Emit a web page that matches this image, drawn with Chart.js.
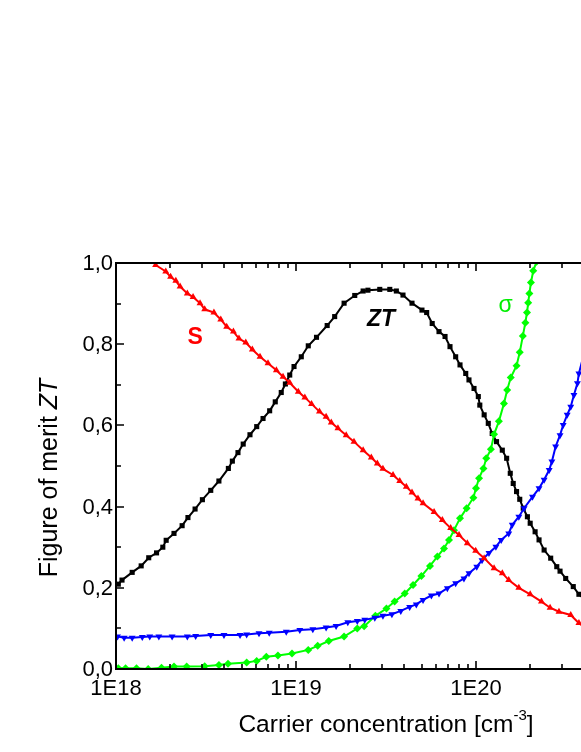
<!DOCTYPE html>
<html>
<head>
<meta charset="utf-8">
<script src="https://cdn.jsdelivr.net/npm/chart.js@4.4.1/dist/chart.umd.min.js"></script>
<style>
  html, body { margin: 0; padding: 0; background: #fff; overflow: hidden; width: 581px; height: 752px; }
  #wrap { position: absolute; left: 0; top: 0; width: 700px; height: 752px; }
</style>
</head>
<body>
<div id="wrap"><canvas id="c" width="700" height="752"></canvas></div>
<script>
// ---- Data (x = carrier concentration in cm^-3, y on the ZT axis scale) ----
const ztConc = [1.03e18,1.08e18,1.23e18,1.38e18,1.52e18,1.68e18,1.82e18,1.90e18,2.10e18,2.33e18,2.51e18,2.75e18,3.02e18,3.36e18,3.73e18,4.21e18,4.43e18,4.76e18,5.09e18,5.55e18,6.05e18,6.56e18,7.14e18,7.67e18,8.28e18,8.73e18,9.23e18,9.75e18,1.07e19,1.17e19,1.30e19,1.49e19,1.64e19,1.85e19,2.12e19,2.36e19,2.51e19,2.92e19,3.32e19,3.61e19,3.93e19,4.41e19,5.01e19,5.32e19,5.71e19,6.23e19,6.73e19,7.17e19,7.71e19,8.15e19,8.77e19,9.14e19,9.75e19,1.03e20,1.05e20,1.11e20,1.17e20,1.23e20,1.30e20,1.40e20,1.48e20,1.55e20,1.61e20,1.68e20,1.75e20,1.83e20,1.93e20,2.00e20,2.13e20,2.24e20,2.39e20,2.60e20,2.81e20,2.93e20,3.15e20,3.47e20,3.73e20,4.10e20];
const ztValues = [0.209,0.219,0.238,0.254,0.274,0.286,0.300,0.317,0.334,0.353,0.373,0.394,0.417,0.440,0.463,0.494,0.512,0.533,0.554,0.577,0.597,0.617,0.636,0.658,0.681,0.702,0.724,0.745,0.769,0.796,0.817,0.846,0.868,0.901,0.920,0.931,0.933,0.935,0.935,0.931,0.921,0.901,0.884,0.878,0.851,0.831,0.819,0.794,0.769,0.749,0.728,0.712,0.691,0.671,0.650,0.626,0.605,0.580,0.560,0.539,0.519,0.482,0.457,0.437,0.418,0.396,0.375,0.359,0.338,0.318,0.293,0.273,0.252,0.241,0.223,0.203,0.184,0.168];

const sConc = [1.66e18,1.89e18,2.01e18,2.15e18,2.27e18,2.49e18,2.68e18,2.93e18,3.11e18,3.50e18,3.82e18,4.12e18,4.49e18,4.82e18,5.26e18,5.72e18,6.31e18,6.99e18,7.78e18,8.47e18,9.23e18,1.03e19,1.12e19,1.22e19,1.35e19,1.47e19,1.57e19,1.71e19,1.90e19,2.10e19,2.36e19,2.62e19,2.83e19,3.04e19,3.46e19,3.77e19,4.10e19,4.41e19,4.76e19,5.08e19,5.85e19,6.50e19,7.23e19,8.05e19,8.95e19,9.96e19,1.11e20,1.26e20,1.40e20,1.52e20,1.73e20,2.00e20,2.31e20,2.58e20,2.89e20,3.36e20,3.73e20,4.10e20];
const sValues = [0.995,0.979,0.966,0.956,0.942,0.925,0.916,0.901,0.886,0.878,0.861,0.843,0.831,0.814,0.804,0.787,0.769,0.753,0.736,0.720,0.705,0.683,0.669,0.653,0.634,0.621,0.607,0.593,0.576,0.560,0.539,0.521,0.506,0.493,0.478,0.463,0.449,0.435,0.420,0.408,0.387,0.367,0.347,0.330,0.310,0.291,0.273,0.248,0.236,0.219,0.200,0.184,0.166,0.151,0.141,0.133,0.113,0.100];

const sigmaConc = [1.03e18,1.13e18,1.30e18,1.51e18,1.79e18,2.10e18,2.47e18,3.11e18,3.73e18,4.19e18,5.32e18,6.05e18,6.84e18,7.94e18,9.50e18,1.17e19,1.32e19,1.52e19,1.85e19,2.19e19,2.39e19,2.76e19,3.18e19,3.53e19,4.02e19,4.47e19,4.97e19,5.55e19,6.10e19,6.64e19,7.08e19,7.55e19,8.15e19,8.87e19,9.67e19,1.00e20,1.04e20,1.10e20,1.14e20,1.21e20,1.26e20,1.34e20,1.43e20,1.49e20,1.56e20,1.68e20,1.75e20,1.82e20,1.88e20,1.92e20,1.95e20,1.98e20,2.02e20,2.08e20,2.17e20];
const sigmaValues = [0.002,0.002,0.002,0.000,0.003,0.006,0.006,0.007,0.010,0.013,0.016,0.020,0.030,0.033,0.038,0.047,0.057,0.069,0.080,0.100,0.105,0.131,0.149,0.166,0.186,0.207,0.229,0.254,0.277,0.297,0.318,0.342,0.371,0.396,0.422,0.445,0.470,0.494,0.519,0.541,0.578,0.610,0.654,0.687,0.718,0.747,0.780,0.820,0.853,0.878,0.902,0.925,0.952,0.981,1.003];

const blueConc = [1.02e18,1.11e18,1.23e18,1.40e18,1.54e18,1.73e18,2.05e18,2.49e18,2.77e18,3.36e18,3.98e18,4.89e18,5.32e18,6.23e18,7.10e18,8.83e18,1.05e19,1.24e19,1.47e19,1.67e19,1.94e19,2.19e19,2.41e19,2.74e19,3.04e19,3.41e19,3.82e19,4.28e19,4.66e19,5.08e19,5.65e19,6.23e19,6.93e19,7.71e19,8.57e19,9.14e19,1.01e20,1.08e20,1.18e20,1.29e20,1.38e20,1.52e20,1.59e20,1.73e20,1.85e20,2.06e20,2.24e20,2.39e20,2.55e20,2.64e20,2.77e20,2.93e20,3.05e20,3.21e20,3.36e20,3.50e20,3.66e20,3.73e20,4.00e20];
const blueValues = [0.080,0.077,0.077,0.079,0.080,0.080,0.080,0.080,0.081,0.084,0.084,0.084,0.085,0.088,0.089,0.092,0.096,0.098,0.102,0.106,0.115,0.118,0.121,0.126,0.131,0.135,0.143,0.153,0.159,0.170,0.181,0.186,0.199,0.211,0.223,0.236,0.252,0.268,0.286,0.301,0.318,0.334,0.355,0.375,0.396,0.424,0.445,0.466,0.490,0.511,0.548,0.576,0.601,0.626,0.646,0.675,0.704,0.728,0.780];

const xTickValues = [1e18, 1e19, 1e20, 1e21];
const xTickLabels = ["1E18", "1E19", "1E20", "1E21"];
const yTickValues = [0, 0.2, 0.4, 0.6, 0.8, 1.0];
const yTickLabels = ["0,0", "0,2", "0,4", "0,6", "0,8", "1,0"];
const yMinorValues = [0.1, 0.3, 0.5, 0.7, 0.9];

const xTitle = "Carrier concentration [cm";
const xTitleSup = "-3";
const xTitleEnd = "]";
const yTitle = "Figure of merit ";
const yTitleItalic = "ZT";

const seriesLabels = [
  { text: "S", x: 2.75e18, y: 0.815, color: "#ff0000", font: "bold 23px 'Liberation Sans', Arial, sans-serif" },
  { text: "ZT", x: 2.97e19, y: 0.86, color: "#000000", font: "italic bold 23px 'Liberation Sans', Arial, sans-serif" },
  { text: "σ", x: 1.46e20, y: 0.895, color: "#00ee00", font: "23px 'Liberation Sans', Arial, sans-serif" }
];

function pts(xs, ys) { return xs.map((x, i) => ({ x: x, y: ys[i] })); }

const FONT = "'Liberation Sans', Arial, sans-serif";

const axesPlugin = {
  id: 'originAxes',
  afterDatasetsDraw(chart) {
    const ctx = chart.ctx;
    const xs = chart.scales.x, ys = chart.scales.y;
    const a = chart.chartArea;
    ctx.save();
    ctx.strokeStyle = '#000';
    ctx.lineWidth = 2;
    ctx.lineCap = 'butt';
    ctx.beginPath();
    ctx.moveTo(a.left, a.bottom); ctx.lineTo(a.right, a.bottom);
    ctx.moveTo(a.left, a.top); ctx.lineTo(a.right, a.top);
    ctx.moveTo(a.left, a.top - 1); ctx.lineTo(a.left, a.bottom + 1);
    ctx.stroke();
    ctx.lineWidth = 1.6;
    ctx.beginPath();
    for (let e = 18; e <= 20; e++) {
      for (let m = 1; m <= 9; m++) {
        const v = m * Math.pow(10, e);
        const px = Math.round(xs.getPixelForValue(v));
        const len = (m === 1) ? 8 : 5;
        ctx.moveTo(px, a.bottom); ctx.lineTo(px, a.bottom - len);
        ctx.moveTo(px, a.top); ctx.lineTo(px, a.top + len);
      }
    }
    yTickValues.forEach(v => {
      const py = Math.round(ys.getPixelForValue(v));
      ctx.moveTo(a.left, py); ctx.lineTo(a.left + 8, py);
    });
    yMinorValues.forEach(v => {
      const py = Math.round(ys.getPixelForValue(v));
      ctx.moveTo(a.left, py); ctx.lineTo(a.left + 5, py);
    });
    ctx.stroke();

    ctx.fillStyle = '#000';
    ctx.font = '22px ' + FONT;
    ctx.textAlign = 'right';
    ctx.textBaseline = 'middle';
    yTickValues.forEach((v, i) => {
      ctx.fillText(yTickLabels[i], a.left - 3, ys.getPixelForValue(v) + 1);
    });
    ctx.textAlign = 'center';
    ctx.textBaseline = 'top';
    xTickValues.forEach((v, i) => {
      ctx.fillText(xTickLabels[i], xs.getPixelForValue(v), a.bottom + 9);
    });

    const TF = '24.5px ' + FONT;
    const SF = '15px ' + FONT;
    ctx.font = TF;
    const w1 = ctx.measureText(xTitle).width;
    ctx.font = SF;
    const w2 = ctx.measureText(xTitleSup).width;
    ctx.font = TF;
    const w3 = ctx.measureText(xTitleEnd).width;
    const total = w1 + w2 + w3;
    const cx = (a.left + a.right) / 2;
    let tx = cx - total / 2;
    const baseY = a.bottom + 63;
    ctx.textAlign = 'left';
    ctx.textBaseline = 'alphabetic';
    ctx.fillText(xTitle, tx, baseY);
    tx += w1;
    ctx.font = SF;
    ctx.fillText(xTitleSup, tx, baseY - 12);
    tx += w2;
    ctx.font = TF;
    ctx.fillText(xTitleEnd, tx, baseY);

    ctx.save();
    ctx.translate(57, (a.top + a.bottom) / 2 + 12);
    ctx.rotate(-Math.PI / 2);
    ctx.font = '25px ' + FONT;
    const yw1 = ctx.measureText(yTitle).width;
    ctx.font = 'italic 25px ' + FONT;
    const yw2 = ctx.measureText(yTitleItalic).width;
    let ty = -(yw1 + yw2) / 2;
    ctx.font = '25px ' + FONT;
    ctx.fillText(yTitle, ty, 0);
    ctx.font = 'italic 25px ' + FONT;
    ctx.fillText(yTitleItalic, ty + yw1, 0);
    ctx.restore();

    ctx.textAlign = 'center';
    ctx.textBaseline = 'middle';
    seriesLabels.forEach(l => {
      ctx.font = l.font;
      ctx.fillStyle = l.color;
      ctx.fillText(l.text, xs.getPixelForValue(l.x), ys.getPixelForValue(l.y));
    });
    ctx.restore();
  }
};

const common = { showLine: true, tension: 0, borderWidth: 2, pointBorderWidth: 0, pointHoverRadius: 0 };

new Chart(document.getElementById('c'), {
  type: 'scatter',
  data: {
    datasets: [
      Object.assign({ label: 'S', data: pts(sConc, sValues), borderColor: '#ff0000', backgroundColor: '#ff0000',
        pointStyle: 'triangle', pointRadius: 4 }, common),
      Object.assign({ label: 'kappa', data: pts(blueConc, blueValues), borderColor: '#0000ff', backgroundColor: '#0000ff',
        pointStyle: 'triangle', pointRotation: 180, pointRadius: 4 }, common),
      Object.assign({ label: 'sigma', data: pts(sigmaConc, sigmaValues), borderColor: '#00ff00', backgroundColor: '#00ff00',
        pointStyle: 'rectRot', pointRadius: 4 }, common),
      Object.assign({ label: 'ZT', data: pts(ztConc, ztValues), borderColor: '#000000', backgroundColor: '#000000',
        pointStyle: 'rect', pointRadius: 3.6 }, common)
    ]
  },
  options: {
    responsive: false,
    animation: false,
    devicePixelRatio: 1,
    layout: { padding: { left: 116, top: 263, right: 44, bottom: 83 } },
    plugins: { legend: { display: false }, tooltip: { enabled: false } },
    scales: {
      x: { type: 'logarithmic', min: 1e18, max: 1e21, display: false },
      y: { type: 'linear', min: 0, max: 1, display: false }
    }
  },
  plugins: [axesPlugin]
});
</script>
</body>
</html>
